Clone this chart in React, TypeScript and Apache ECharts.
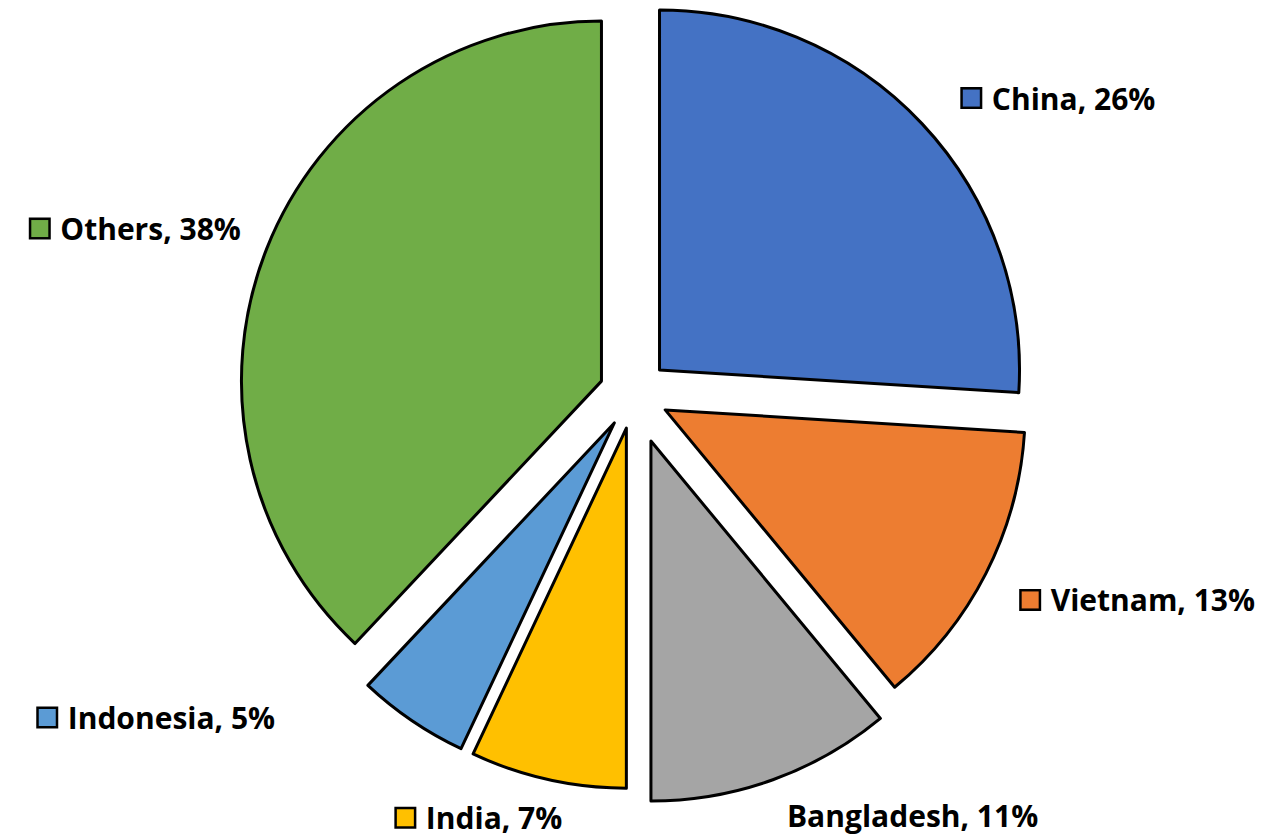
import React, { useEffect, useRef } from "react";
import * as echarts from "echarts";

const categories = ["China", "Vietnam", "Bangladesh", "India", "Indonesia", "Others"];
const shares = [26, 13, 11, 7, 5, 38];
const sliceColors = ["#4472C4", "#ED7D31", "#A5A5A5", "#FFC000", "#5B9BD5", "#70AD47"];

// label styling tweaks (per category index)
const showKey = [true, true, false, true, true, true];
const labelNudge: [number, number][] = [
  [19, -5],
  [9, 13],
  [9, 22],
  [21, 9],
  [-120, -28],
  [2, -9],
];

const FONT = "'Open Sans', Roboto, sans-serif";

export default function App() {
  const ref = useRef<HTMLDivElement>(null);
  useEffect(() => {
    if (!ref.current) return;
    const chart = echarts.init(ref.current, null, { renderer: "svg" });
    const rich: Record<string, any> = {
      t: { fontFamily: FONT, fontSize: 30, fontWeight: "bold", color: "#000" },
      sp: { width: 12 },
    };
    sliceColors.forEach((c, i) => {
      rich["k" + i] = {
        width: 17,
        height: 17,
        backgroundColor: c,
        borderColor: "#000",
        borderWidth: 2.5,
      };
    });
    const center = [634, 394];
    const radius = 360;
    const mainData = categories.map((name, i) => ({
      name,
      value: shares[i],
      selected: true,
      itemStyle:
        i === 2
          ? { color: "rgba(0,0,0,0)", borderWidth: 0 }
          : { color: sliceColors[i], borderColor: "#000", borderWidth: 3 },
    }));
    const bdData = categories.map((name, i) => ({
      name,
      value: shares[i],
      selected: true,
      itemStyle:
        i === 2
          ? { color: sliceColors[i], borderColor: "#000", borderWidth: 3 }
          : { color: "rgba(0,0,0,0)", borderWidth: 0 },
    }));
    chart.setOption({
      animation: false,
      backgroundColor: "#fff",
      series: [
        {
          type: "pie",
          center,
          radius,
          startAngle: 90,
          clockwise: true,
          selectedMode: "multiple",
          selectedOffset: 50,
          silent: true,
          label: { show: false },
          labelLine: { show: false },
          data: bdData,
        },
        {
          type: "pie",
          center,
          radius,
          startAngle: 90,
          clockwise: true,
          selectedMode: "multiple",
          selectedOffset: 35,
          avoidLabelOverlap: false,
          silent: true,
          label: {
            show: true,
            position: "outside",
            distanceToLabelLine: 0,
            overflow: "none",
            fontFamily: FONT,
            fontSize: 30,
            fontWeight: "bold",
            color: "#000",
            rich,
            formatter: (p: any) => {
              const i = p.dataIndex;
              const txt = `{t|${p.name}, ${p.value}%}`;
              return showKey[i] ? `{k${i}|}{sp|}${txt}` : txt;
            },
          },
          labelLine: { show: false, length: 30, length2: 0 },
          labelLayout: (p: any) => {
            const n = labelNudge[p.dataIndex] || [0, 0];
            return { dx: n[0], dy: n[1] };
          },
          data: mainData,
        },
      ],
    });
    return () => chart.dispose();
  }, []);
  return (
    <div
      ref={ref}
      style={{ position: "absolute", left: 0, top: 0, width: 1270, height: 838 }}
    />
  );
}
